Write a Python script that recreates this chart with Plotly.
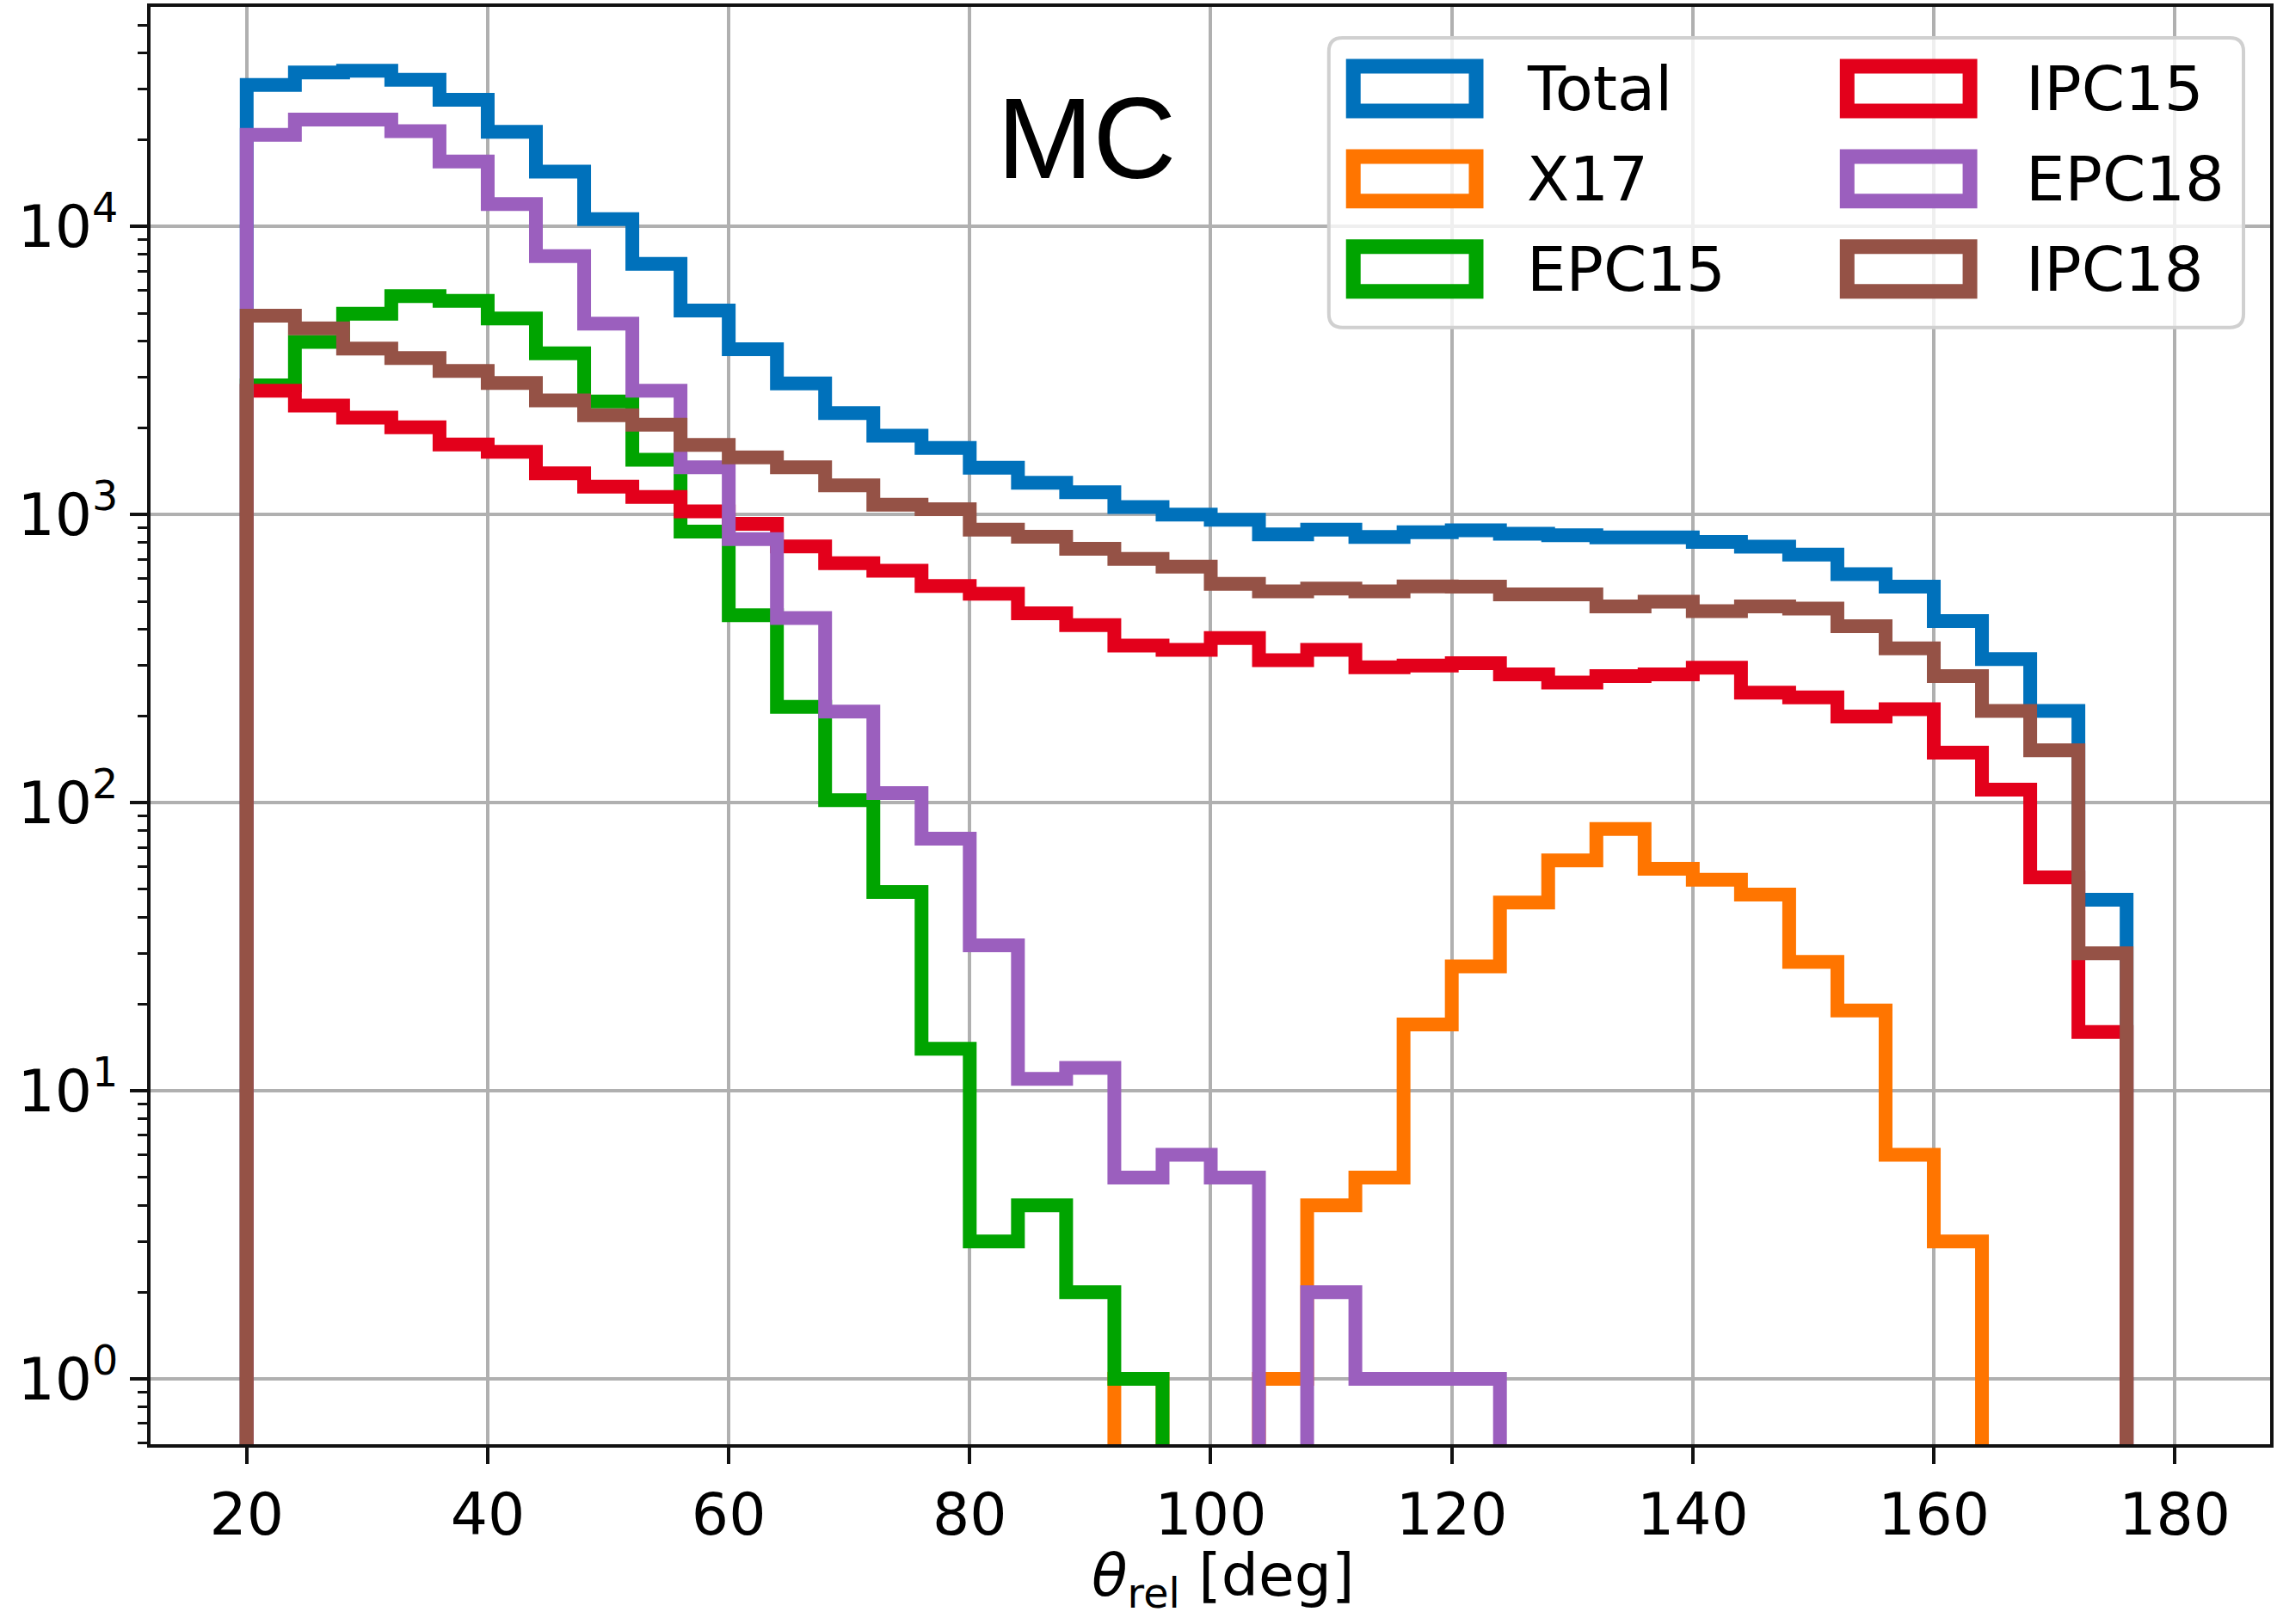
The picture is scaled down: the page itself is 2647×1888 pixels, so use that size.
import plotly.graph_objects as go

# ---------------- data ----------------
bin_edges = [20, 24, 28, 32, 36, 40, 44, 48, 52, 56, 60, 64, 68, 72, 76, 80, 84, 88, 92, 96,
             100, 104, 108, 112, 116, 120, 124, 128, 132, 136, 140, 144, 148, 152, 156, 160,
             164, 168, 172, 176]

total = [31000, 34200, 34700, 32300, 27500, 21300, 15500, 10600, 7420, 5110,
         3750, 2850, 2250, 1877, 1702, 1455, 1290, 1195, 1062, 1000,
         959, 854, 887, 836, 868, 882, 858, 848, 833, 833,
         803, 774, 726, 621, 562, 427, 315, 208, 46]

x17 = [0, 0, 0, 0, 0, 0, 0, 0, 0, 0,
       0, 0, 0, 0, 0, 0, 0, 0, 1, 0,
       0, 1, 4, 5, 17, 27, 45, 63, 81, 59,
       54, 48, 28, 19, 6, 3, 0, 0, 0]

epc15 = [2810, 3970, 4980, 5730, 5520, 4790, 3630, 2470, 1550, 873,
         447, 215, 102, 49, 14, 3, 4, 2, 1, 0,
         0, 0, 0, 0, 0, 0, 0, 0, 0, 0,
         0, 0, 0, 0, 0, 0, 0, 0, 0]

ipc15 = [2690, 2390, 2170, 2010, 1750, 1650, 1390, 1250, 1150, 1025,
         928, 775, 678, 638, 565, 531, 454, 413, 351, 339,
         373, 312, 339, 295, 299, 305, 279, 261, 275, 279,
         294, 241, 232, 199, 211, 149, 111, 55, 16]

epc18 = [20800, 23500, 23500, 21400, 16800, 11950, 7890, 4600, 2690, 1460,
         821, 437, 207, 108, 75, 32, 11, 12, 5, 6,
         5, 0, 2, 1, 1, 1, 0, 0, 0, 0,
         0, 0, 0, 0, 0, 0, 0, 0, 0]

ipc18 = [4900, 4430, 3770, 3490, 3150, 2860, 2490, 2210, 2050, 1745,
         1579, 1458, 1263, 1082, 1043, 886, 837, 760, 702, 660,
         575, 541, 553, 541, 563, 562, 528, 528, 480, 498,
         462, 480, 472, 410, 343, 275, 208, 152, 30]

series_names = ["Total", "X17", "EPC15", "IPC15", "EPC18", "IPC18"]
series_values = [total, x17, epc15, ipc15, epc18, ipc18]
series_colors = ["#0071BB", "#FF7500", "#00A400", "#E3001B", "#9B5FBE", "#955246"]

x_ticks = [20, 40, 60, 80, 100, 120, 140, 160, 180]
y_ticks = [1, 10, 100, 1000, 10000]
y_ticktext = ["10<sup>0</sup>", "10<sup>1</sup>", "10<sup>2</sup>", "10<sup>3</sup>", "10<sup>4</sup>"]
x_title = "<i>θ</i><sub>rel</sub> [deg]"

# ---------------- layout geometry ----------------
FIG_W, FIG_H = 2647, 1888
M_L, M_R, M_T, M_B = 175, 4, 7, 209
PW = FIG_W - M_L - M_R
PH = FIG_H - M_T - M_B
X_RANGE = [12.02, 187.91]
Y_RANGE = [-0.2268, 4.762]   # log10 units
LOG_FLOOR = 1e-3             # where empty bins are clipped (below the axis, like matplotlib)


def px(X):
    return (X - M_L) / PW


def py(Y):
    return (FIG_H - M_B - Y) / PH


def step_xy(vals):
    ys = [v if v > 0 else LOG_FLOOR for v in vals]
    x = [bin_edges[0]] + bin_edges[:-1] + [bin_edges[-1]]
    y = [LOG_FLOOR] + ys + [LOG_FLOOR]
    return x, y


fig = go.Figure()
for name, vals, col in zip(series_names, series_values, series_colors):
    x, y = step_xy(vals)
    fig.add_trace(go.Scatter(
        x=x, y=y, mode="lines", name=name,
        line=dict(color=col, width=16, shape="hv", simplify=False),
        showlegend=False, hoverinfo="skip",
    ))

minor_vals = [k * 10 ** d for d in range(-1, 5) for k in range(2, 10)]

tick_font = dict(family="DejaVu Sans", size=68, color="black")

fig.update_layout(
    width=FIG_W, height=FIG_H,
    margin=dict(l=M_L, r=M_R, t=M_T, b=M_B, pad=0),
    paper_bgcolor="white", plot_bgcolor="white",
    showlegend=False,
    xaxis=dict(
        range=X_RANGE, tickmode="array", tickvals=x_ticks,
        ticks="outside", ticklen=19, tickwidth=4, tickcolor="#111111",
        showline=True, linecolor="#111111", linewidth=4, mirror=True,
        showgrid=True, gridcolor="#b0b0b0", gridwidth=4,
        zeroline=False, tickfont=tick_font,
    ),
    yaxis=dict(
        type="log", range=Y_RANGE, tickmode="array", tickvals=y_ticks, ticktext=y_ticktext,
        ticks="outside", ticklen=20, tickwidth=4, tickcolor="#111111",
        showline=True, linecolor="#111111", linewidth=4, mirror=True,
        showgrid=True, gridcolor="#b0b0b0", gridwidth=4,
        zeroline=False, tickfont=tick_font,
        minor=dict(tickmode="array", tickvals=minor_vals, ticks="outside",
                   ticklen=11, tickwidth=3, tickcolor="#111111", showgrid=False),
    ),
)

# x-axis title (placed as text below the tick labels)
fig.add_annotation(
    x=px(1424), y=py(1836), xref="paper", yref="paper",
    text=x_title, showarrow=False, xanchor="center", yanchor="middle",
    font=tick_font,
)

# "MC" label
fig.add_annotation(
    x=px(1265), y=py(160), xref="paper", yref="paper",
    text="MC", showarrow=False, xanchor="center", yanchor="middle",
    font=dict(family="Liberation Sans", size=134, color="black"),
)

# ---------------- legend (hollow patches, two columns) ----------------
lx0, lx1, ly0, ly1 = px(1547), px(2612), py(43), py(380)
rx, ry = 16 / PW, 16 / PH
box_path = (
    f"M {lx0 + rx},{ly0} L {lx1 - rx},{ly0} Q {lx1},{ly0} {lx1},{ly0 - ry} "
    f"L {lx1},{ly1 + ry} Q {lx1},{ly1} {lx1 - rx},{ly1} "
    f"L {lx0 + rx},{ly1} Q {lx0},{ly1} {lx0},{ly1 + ry} "
    f"L {lx0},{ly0 - ry} Q {lx0},{ly0} {lx0 + rx},{ly0} Z"
)
fig.add_shape(type="path", path=box_path, xref="paper", yref="paper",
              line=dict(color="#d0d0d0", width=4), fillcolor="rgba(255,255,255,0.8)",
              layer="above")

col_rect_x = [(1575.5, 1718.5), (2150.5, 2293.5)]
col_text_x = [1776, 2357]
row_y = [102, 207, 312]
for i, (name, col) in enumerate(zip(series_names, series_colors)):
    c, r = divmod(i, 3)
    (xa, xb), yc = col_rect_x[c], row_y[r]
    fig.add_shape(type="rect", xref="paper", yref="paper",
                  x0=px(xa), x1=px(xb), y0=py(yc + 26), y1=py(yc - 26),
                  line=dict(color=col, width=17), fillcolor="rgba(0,0,0,0)", layer="above")
    fig.add_annotation(x=px(col_text_x[c]), y=py(yc), xref="paper", yref="paper",
                       text=name, showarrow=False, xanchor="left", yanchor="middle",
                       font=dict(family="DejaVu Sans", size=72, color="black"))

fig.write_html("out.html")
